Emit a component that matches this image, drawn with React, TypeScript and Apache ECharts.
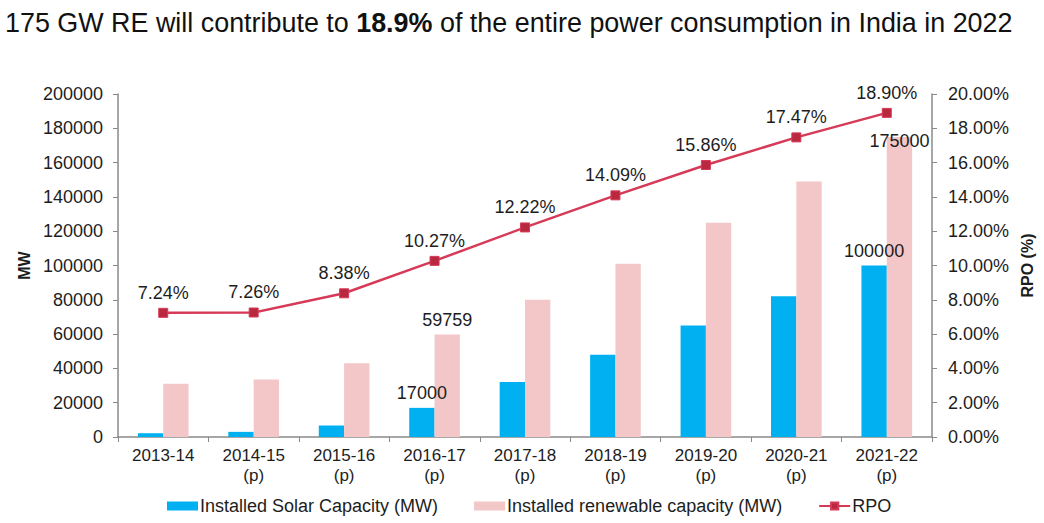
import React, { useEffect, useRef } from "react";
import * as echarts from "echarts";

const categories = [
  "2013-14",
  "2014-15\n(p)",
  "2015-16\n(p)",
  "2016-17\n(p)",
  "2017-18\n(p)",
  "2018-19\n(p)",
  "2019-20\n(p)",
  "2020-21\n(p)",
  "2021-22\n(p)",
];
const solarMW = [2200, 3000, 6700, 17000, 32000, 48000, 65000, 82000, 100000];
const renewableMW = [31000, 33500, 43000, 59759, 80000, 101000, 125000, 149000, 175000];
const rpoPct = [7.24, 7.26, 8.38, 10.27, 12.22, 14.09, 15.86, 17.47, 18.9];
const labelledBars = [3, 8];

const FONT = "'Liberation Sans', Arial, Helvetica, sans-serif";
const TXT = "#1d1d1d";
const AXIS = "#8a8a8a";

export default function App() {
  const ref = useRef<HTMLDivElement>(null);
  useEffect(() => {
    if (!ref.current) return;
    const chart = echarts.init(ref.current, null, { renderer: "svg" });
    const barLabel = (i: number, offsetY: number) => ({
      show: labelledBars.includes(i),
      position: "top",
      distance: 6,
      offset: [0, offsetY],
      fontSize: 18,
      color: TXT,
      fontFamily: FONT,
    });
    chart.setOption({
      animation: false,
      textStyle: { fontFamily: FONT },
      title: {
        left: 0,
        top: 4,
        text: "175 GW RE will contribute to {b|18.9%} of the entire power consumption in India in 2022",
        textStyle: {
          fontSize: 26.9,
          fontWeight: "normal",
          color: "#111",
          fontFamily: FONT,
          rich: { b: { fontSize: 26.9, fontWeight: "bold", color: "#111", fontFamily: FONT } },
        },
      },
      grid: { left: 118, right: 112, top: 94, bottom: 86 },
      legend: {
        left: 162,
        top: 492,
        itemWidth: 31,
        itemHeight: 9,
        itemGap: 36,
        textStyle: { fontSize: 18, color: TXT, fontFamily: FONT, padding: [0, 0, 0, -3] },
        data: [
          { name: "Installed Solar Capacity (MW)", icon: "rect" },
          { name: "Installed renewable capacity (MW)", icon: "rect" },
          { name: "RPO" },
        ],
      },
      xAxis: {
        type: "category",
        data: categories,
        axisLine: { lineStyle: { color: AXIS, width: 1.5 } },
        axisTick: { show: true, length: 5, lineStyle: { color: AXIS } },
        axisLabel: { fontSize: 17, color: TXT, margin: 8, lineHeight: 20, fontFamily: FONT },
      },
      yAxis: [
        {
          type: "value",
          min: 0,
          max: 200000,
          interval: 20000,
          name: "MW",
          nameLocation: "middle",
          nameGap: 84,
          nameRotate: 90,
          nameTextStyle: { fontSize: 16, fontWeight: "bold", color: TXT, fontFamily: FONT },
          axisLine: { show: true, lineStyle: { color: AXIS, width: 1.5 } },
          axisTick: { show: true, length: 5, lineStyle: { color: AXIS } },
          axisLabel: {
            fontSize: 18,
            color: TXT,
            margin: 15,
            fontFamily: FONT,
            formatter: (v: number) => String(v),
          },
          splitLine: { show: false },
        },
        {
          type: "value",
          min: 0,
          max: 20,
          interval: 2,
          position: "right",
          name: "RPO (%)",
          nameLocation: "middle",
          nameGap: 86,
          nameRotate: 90,
          nameTextStyle: { fontSize: 16, fontWeight: "bold", color: TXT, fontFamily: FONT },
          axisLine: { show: true, lineStyle: { color: AXIS, width: 1.5 } },
          axisTick: { show: true, length: 5, lineStyle: { color: AXIS } },
          axisLabel: {
            fontSize: 18,
            color: TXT,
            margin: 16,
            fontFamily: FONT,
            formatter: (v: number) => v.toFixed(2) + "%",
          },
          splitLine: { show: false },
        },
      ],
      series: [
        {
          name: "Installed Solar Capacity (MW)",
          type: "bar",
          barWidth: "28%",
          barGap: "0%",
          itemStyle: { color: "#00B0F0" },
          data: solarMW.map((v, i) => ({ value: v, label: barLabel(i, 0) })),
        },
        {
          name: "Installed renewable capacity (MW)",
          type: "bar",
          barWidth: "28%",
          barGap: "0%",
          itemStyle: { color: "#F3C6C7" },
          data: renewableMW.map((v, i) => ({ value: v, label: barLabel(i, i === 8 ? 19 : 0) })),
        },
        {
          name: "RPO",
          type: "line",
          yAxisIndex: 1,
          symbol: "rect",
          symbolSize: 9,
          lineStyle: { color: "#D63A57", width: 2.5 },
          itemStyle: { color: "#B8293F", borderColor: "#D63A57", borderWidth: 1 },
          label: {
            show: true,
            position: "top",
            distance: 6,
            fontSize: 18,
            color: TXT,
            fontFamily: FONT,
            formatter: (p: any) => Number(p.value).toFixed(2) + "%",
          },
          data: rpoPct,
          z: 5,
        },
      ],
    });
    return () => chart.dispose();
  }, []);
  return (
    <div
      ref={ref}
      style={{ position: "fixed", left: 0, top: 0, width: 1044, height: 523, background: "#fff" }}
    />
  );
}
